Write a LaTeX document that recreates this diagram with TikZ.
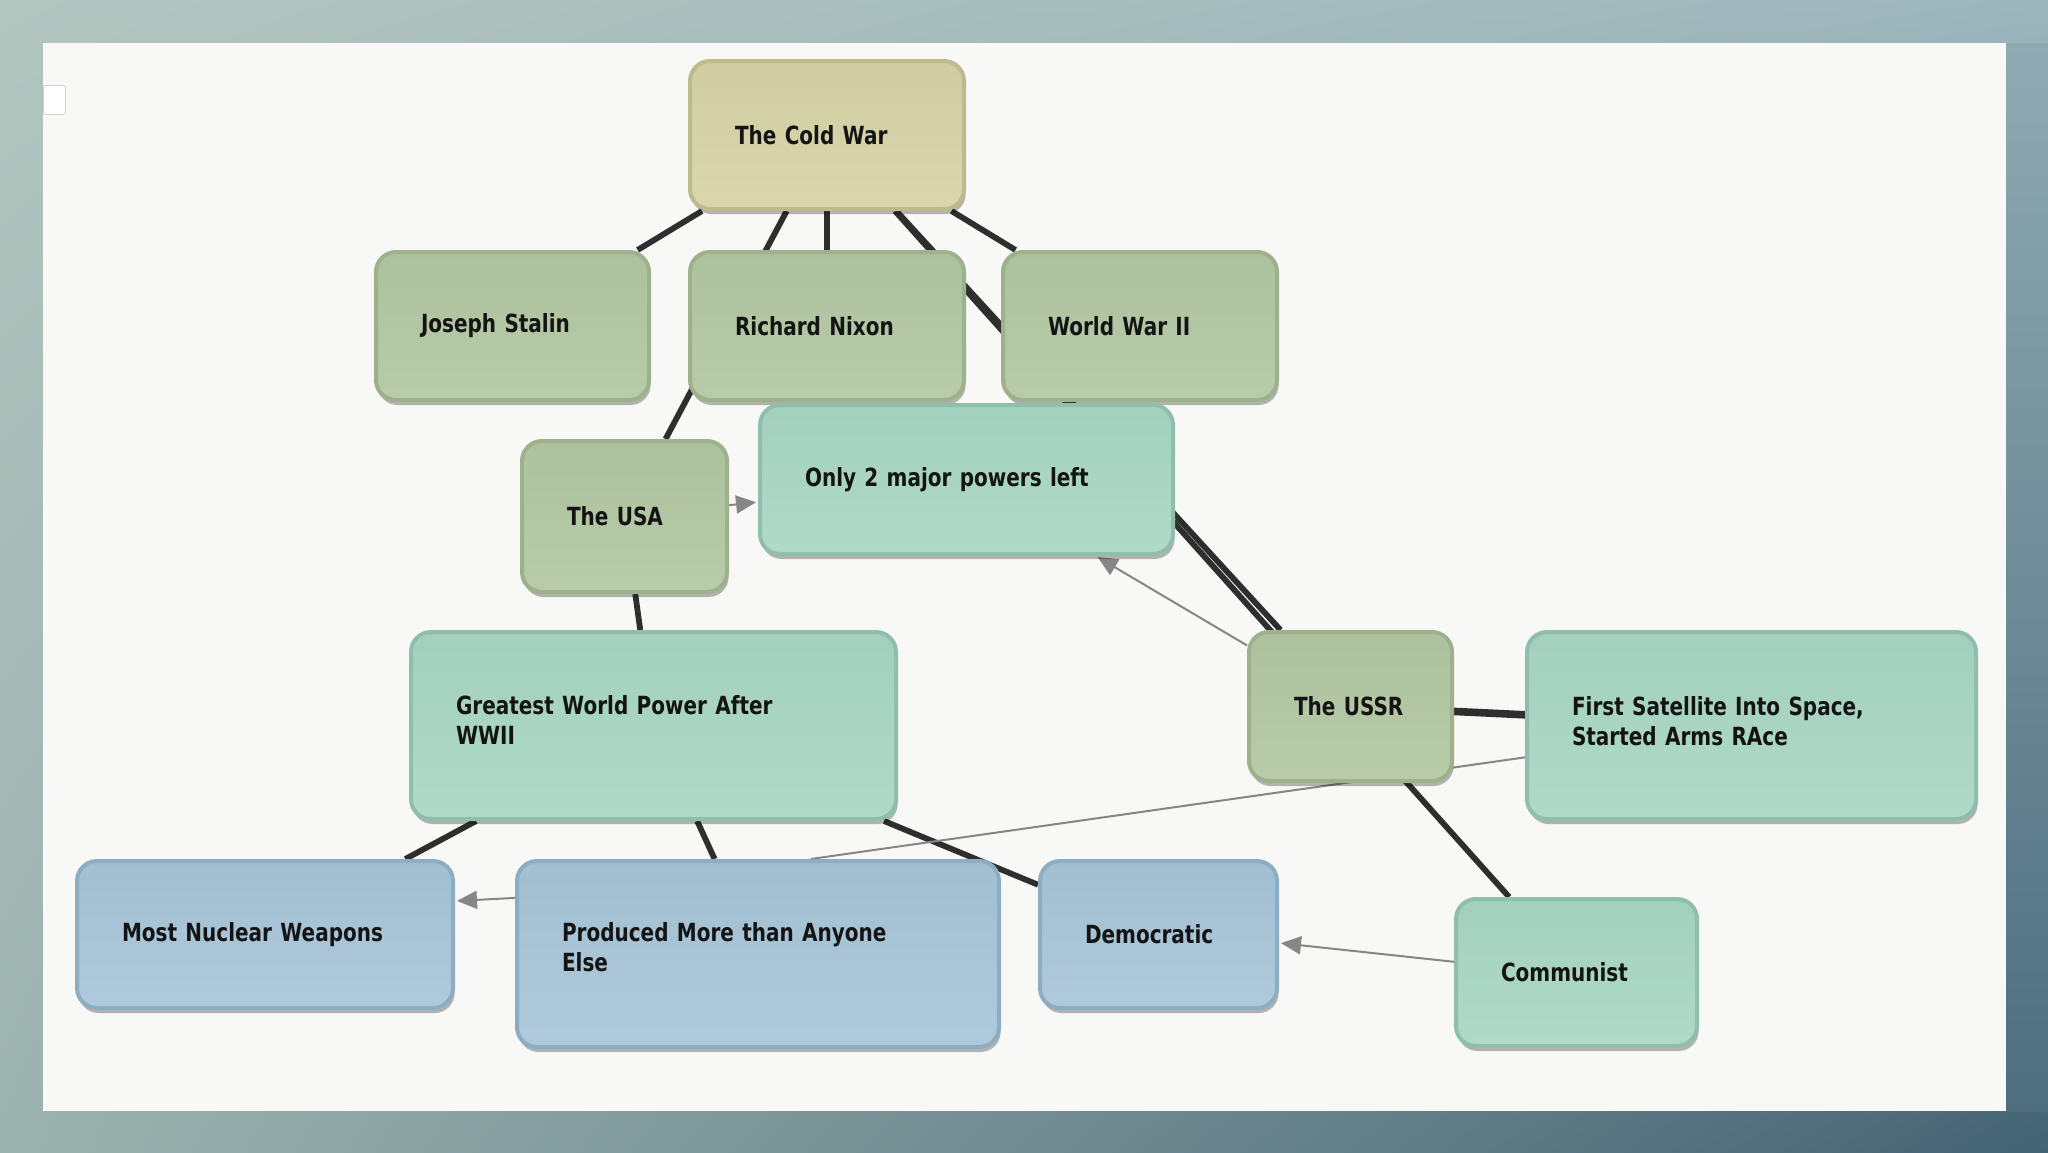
\documentclass[tikz,border=0pt]{standalone}
\usepackage{fontspec}
\newfontfamily\boxfont{DejaVu Sans}[FakeStretch=0.8]
\usetikzlibrary{shadows,shadings,arrows.meta}
\pgfdeclarelayer{bg}
\pgfdeclarelayer{edges}
\pgfsetlayers{bg,edges,main}
\definecolor{coldfill}{HTML}{D6D3A6}
\definecolor{coldline}{HTML}{BDBA8B}
\definecolor{grfill}{HTML}{B2C7A2}
\definecolor{grline}{HTML}{9CB18C}
\definecolor{tlfill}{HTML}{A8D7C3}
\definecolor{tlline}{HTML}{8FBFAC}
\definecolor{blfill}{HTML}{A7C5D8}
\definecolor{blline}{HTML}{8DADC2}
\definecolor{panel}{HTML}{F8F8F6}
\definecolor{edgedark}{HTML}{2E2E2E}
\definecolor{edgegray}{HTML}{868686}
\definecolor{frameUL}{HTML}{B3C5BF}
\definecolor{frameUR}{HTML}{9DB6BD}
\definecolor{frameLL}{HTML}{9DB3AF}
\definecolor{frameLR}{HTML}{446373}
\definecolor{rtop}{HTML}{8FAAB2}
\definecolor{rmid}{HTML}{D9C3B6}
\definecolor{rbot}{HTML}{4E6E7F}
\begin{document}
\begin{tikzpicture}[x=0.5pt,y=-0.5pt,
  cbox/.style={rectangle, rounded corners=10pt, line width=2pt, inner xsep=22.5pt, inner ysep=0pt,
    align=left, font=\boxfont\bfseries\fontsize{12.5pt}{15pt}\selectfont, text=black!92,
    drop shadow={shadow xshift=0.8pt, shadow yshift=-2.5pt, opacity=0.28, fill=black}},
  coldbox/.style={cbox, draw=coldline, top color=coldfill!97!black, bottom color=coldfill!92!white},
  grbox/.style={cbox, draw=grline, top color=grfill!97!black, bottom color=grfill!92!white},
  tlbox/.style={cbox, draw=tlline, top color=tlfill!97!black, bottom color=tlfill!92!white},
  blbox/.style={cbox, draw=blline, top color=blfill!97!black, bottom color=blfill!92!white},
  thickedge/.style={line width=2.9pt, draw=edgedark},
  thinedge/.style={line width=1pt, draw=edgegray},
  arredge/.style={thinedge, -{Triangle[length=10pt,width=9pt]}, shorten >=1pt}
]
\useasboundingbox (0,0) rectangle (2048,1152);
\begin{pgfonlayer}{bg}
  \shade[upper left=frameUL, upper right=frameUR, lower left=frameLL, lower right=frameLR] (0,0) rectangle (2048,1152);
  \shade[top color=rtop, middle color=rmid, bottom color=rbot] (2006,43) rectangle (2048,1111);
  \fill[panel] (43,43) rectangle (2006,1111);
\end{pgfonlayer}
\node[draw=black!18, fill=white, rounded corners=1pt, minimum width=11pt, minimum height=14.5pt, inner sep=0pt, anchor=north west] (tab) at (43,85) {};

% nodes
\node[coldbox, minimum width=137pt, minimum height=74pt, text width=92pt] (cold) at (827,135) {The Cold War};
\node[grbox, minimum width=136.5pt, minimum height=74pt, text width=91.5pt] (stalin) at (512.5,326) {Joseph Stalin};
\node[grbox, minimum width=137pt, minimum height=74pt, text width=92pt] (nixon) at (827,326) {Richard Nixon};
\node[grbox, minimum width=137pt, minimum height=74pt, text width=92pt] (wwii) at (1140,326) {World War II};
\node[tlbox, minimum width=206.5pt, minimum height=74.5pt, text width=161.5pt] (only2) at (966.5,479.5) {Only 2 major powers left};
\node[grbox, minimum width=102.5pt, minimum height=75.5pt, text width=57.5pt] (usa) at (624.5,516.5) {The~USA};
\node[tlbox, text depth=21pt, minimum width=242.5pt, minimum height=93.5pt, text width=197.5pt] (greatest) at (653.5,725.5) {Greatest World Power After\\WWII};
\node[grbox, minimum width=101.5pt, minimum height=74.5pt, text width=56.5pt] (ussr) at (1350.5,706.5) {The~USSR};
\node[tlbox, text depth=20pt, minimum width=224.5pt, minimum height=93.5pt, text width=179.5pt] (sat) at (1751.5,725.5) {First Satellite Into Space,\\Started Arms RAce};
\node[blbox, minimum width=188pt, minimum height=73.5pt, text width=143pt] (nuclear) at (265,934.5) {Most Nuclear Weapons};
\node[blbox, text depth=22pt, minimum width=241pt, minimum height=93pt, text width=196pt] (produced) at (758,954) {Produced More than Anyone\\Else};
\node[blbox, minimum width=118.5pt, minimum height=73.5pt, text width=73.5pt] (democratic) at (1158.5,934.5) {Democratic};
\node[tlbox, minimum width=120.5pt, minimum height=73.5pt, text width=75.5pt] (communist) at (1576.5,972.5) {Communist};

% connectors
\begin{pgfonlayer}{edges}
  \draw[thickedge] (cold) -- (stalin);
  \draw[thickedge] (cold) -- (nixon);
  \draw[thickedge] (cold) -- (wwii);
  \draw[thickedge] (cold) -- (usa);
  \draw[thickedge] (cold) -- (ussr);
  \draw[thickedge] (cold) -- (communist);
  \draw[thickedge] (usa) -- (greatest);
  \draw[thickedge] (greatest) -- (nuclear);
  \draw[thickedge] (greatest) -- (produced);
  \draw[thickedge] (greatest) -- (democratic);
  \draw[thickedge, line width=3.8pt] (ussr) -- (sat);
  \draw[arredge] (usa) -- (only2);
  \draw[arredge] (ussr) -- (only2);
  \draw[thinedge] (sat.188) -- (produced.61);
  \draw[arredge] (produced.167) -- (nuclear.10);
  \draw[arredge] (communist.175) -- (democratic.-4);
\end{pgfonlayer}
\end{tikzpicture}
\end{document}
